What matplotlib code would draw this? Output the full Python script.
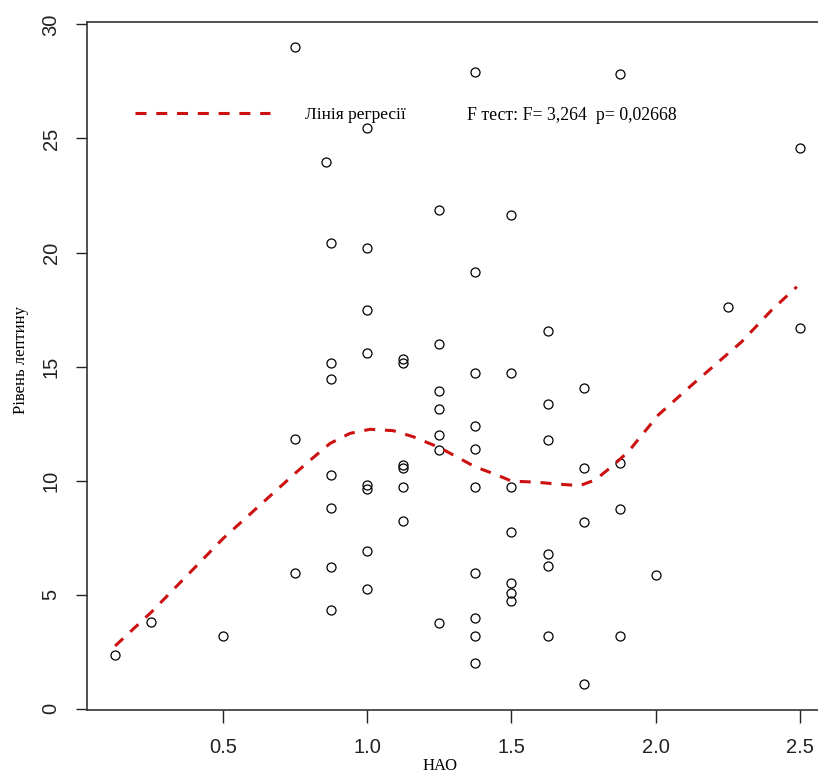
import matplotlib
matplotlib.use("Agg")
import matplotlib.pyplot as plt
from matplotlib.lines import Line2D

# points: (НАО, leptin level)
nao = [0.125, 0.25, 0.5,
       0.75, 0.75, 0.75,
       0.857,
       0.875, 0.875, 0.875, 0.875, 0.875, 0.875, 0.875,
       1.0, 1.0, 1.0, 1.0, 1.0, 1.0, 1.0, 1.0,
       1.125, 1.125, 1.125, 1.125, 1.125, 1.125,
       1.25, 1.25, 1.25, 1.25, 1.25, 1.25, 1.25,
       1.375, 1.375, 1.375, 1.375, 1.375, 1.375, 1.375, 1.375, 1.375, 1.375,
       1.5, 1.5, 1.5, 1.5, 1.5, 1.5, 1.5,
       1.625, 1.625, 1.625, 1.625, 1.625, 1.625,
       1.75, 1.75, 1.75, 1.75,
       1.875, 1.875, 1.875, 1.875,
       2.0, 2.25, 2.5, 2.5]
leptin = [2.35, 3.81, 3.2,
          29.02, 11.82, 5.96,
          23.95,
          20.43, 15.17, 14.44, 10.25, 8.78, 6.2, 4.33,
          25.44, 20.18, 17.48, 15.61, 9.82, 9.64, 6.93, 5.25,
          15.35, 15.15, 10.7, 10.55, 9.73, 8.23,
          21.86, 15.97, 13.93, 13.12, 12.0, 11.34, 3.77,
          27.9, 19.16, 14.7, 12.39, 11.37, 9.73, 5.96, 3.99, 3.2, 2.02,
          21.64, 14.7, 9.73, 7.76, 5.52, 5.06, 4.72,
          16.57, 13.34, 11.78, 6.77, 6.26, 3.2,
          14.07, 10.54, 8.17, 1.07,
          27.81, 10.76, 8.74, 3.2,
          5.86, 17.6, 24.57, 16.68]

# regression (smoothed) line
curve_x = [0.126, 0.253, 0.501, 0.75, 0.81, 0.871, 0.94, 1.01, 1.09, 1.16,
           1.252, 1.373, 1.449, 1.50, 1.587, 1.668, 1.737, 1.79, 1.847, 1.905,
           2.009, 2.125, 2.298, 2.402, 2.489]
curve_y = [2.75, 4.25, 7.47, 10.32, 10.98, 11.63, 12.07, 12.25, 12.19, 11.92,
           11.44, 10.61, 10.25, 9.98, 9.93, 9.84, 9.78, 10.03, 10.61, 11.27,
           12.88, 14.19, 16.09, 17.48, 18.5]

x_ticks = [0.5, 1.0, 1.5, 2.0, 2.5]
y_ticks = [0, 5, 10, 15, 20, 25, 30]

legend_label = "Лінія регресії"
ftest_label = "F тест: F= 3,264  p= 0,02668"

W, H = 818, 778
red = "#cc1111"
dash = (0, (3.6, 3.2))
serif = ["Liberation Serif", "DejaVu Serif"]
sans = ["Liberation Sans", "DejaVu Sans"]

fig = plt.figure(figsize=(W / 100, H / 100), dpi=100)
# right edge of the box lies outside the picture, as in the reference
ax = fig.add_axes([87 / W, 68 / H, 740 / W, 688.3 / H])

ax.plot(nao, leptin, linestyle="none", marker="o", markersize=6.5,
        markerfacecolor="none", markeredgecolor="black", markeredgewidth=0.9)
ax.plot(curve_x, curve_y, color=red, linewidth=2.2, linestyle=dash)

ax.set_xlim(0.0286, 2.5936)
ax.set_ylim(-0.057, 30.12)
ax.set_xticks(x_ticks)
ax.set_xticklabels([f"{v:.1f}" for v in x_ticks], family=sans, fontsize=14.5)
ax.set_yticks(y_ticks)
ax.set_yticklabels([str(v) for v in y_ticks], family=sans, fontsize=14.5,
                   rotation=90, va="center")
ax.tick_params(axis="x", length=9.5, width=1.0, pad=11, colors="#222222")
ax.tick_params(axis="y", length=8, width=1.0, pad=11, colors="#222222")
for s in ax.spines.values():
    s.set_linewidth(1.2)
    s.set_color("#333333")

ax.set_xlabel("НАО", family=serif, fontsize=12)
ax.xaxis.set_label_coords(0.477, -0.07)
ax.set_ylabel("Рівень лептину", family=serif, fontsize=12)
ax.yaxis.set_label_coords(-0.079, 0.508)

handle = Line2D([], [], color=red, linewidth=2.2, linestyle=dash)
leg = fig.legend([handle], [legend_label], loc="center left",
                 bbox_to_anchor=(135 / W, 1 - 115 / H), frameon=False,
                 borderpad=0, borderaxespad=0, handlelength=7.8,
                 handletextpad=2.0, prop={"family": serif, "size": 12.5})
fig.text(467 / W, 1 - 115 / H, ftest_label, family=serif, fontsize=12.8,
         va="center", ha="left")

fig.savefig("out.png", dpi=100)
